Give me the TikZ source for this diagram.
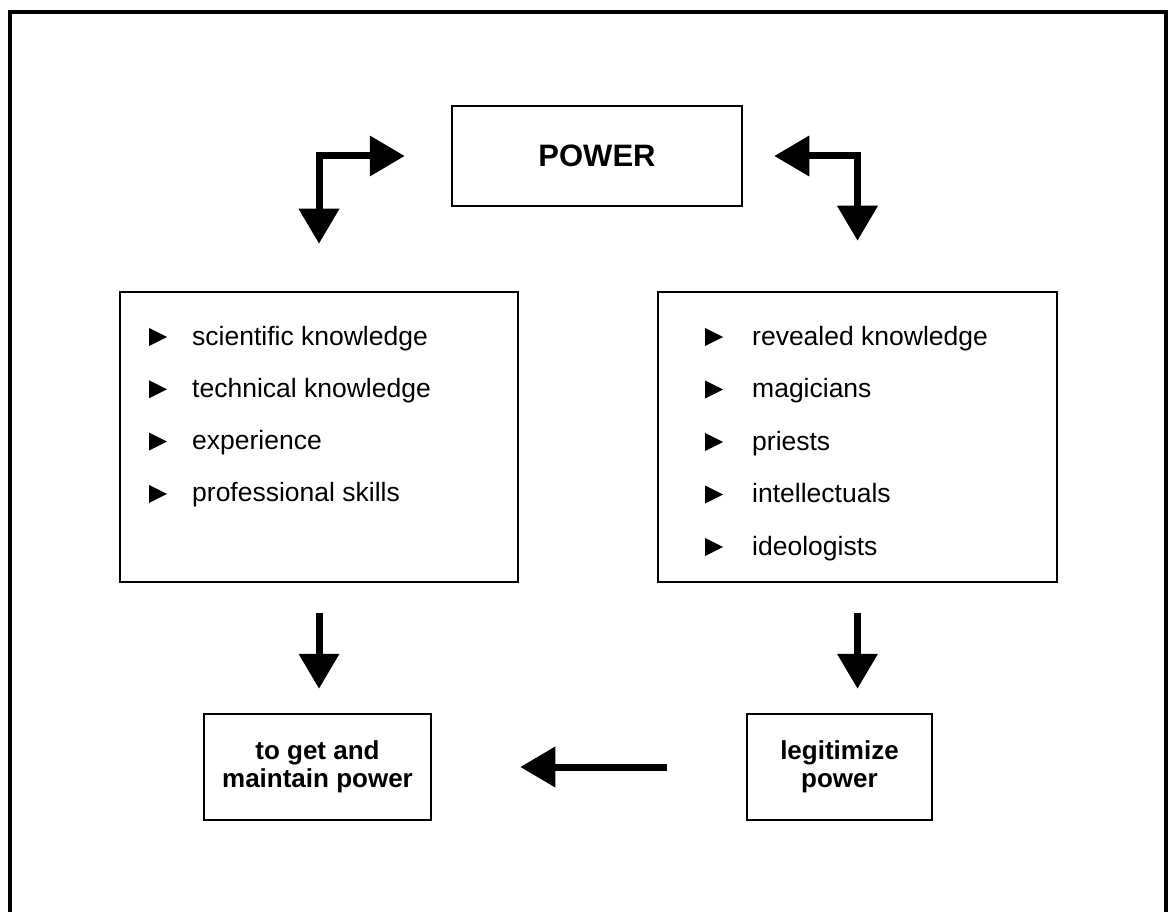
\documentclass[tikz,border=0pt]{standalone}
\usepackage{fontspec}
\setmainfont{Liberation Sans}
\usetikzlibrary{arrows.meta}

\begin{document}
\begin{tikzpicture}[
	x=1pt, y=-1pt,
	box/.style={
		rectangle,
		draw=black,
		line width=2.5pt,
		align=center,
		inner sep=0pt
	},
	bigarrow/.style={
		line width=7pt,
		-{Triangle[length=35pt,width=39pt]}
	},
	twoway/.style={
		line width=7pt,
		{Triangle[length=35pt,width=39pt]}-{Triangle[length=35pt,width=39pt]}
	},
	item/.style={
		anchor=base west,
		inner sep=0pt,
		font=\fontsize{26.5}{30}\selectfont
	},
	result/.style={
		font=\bfseries\fontsize{26}{28}\selectfont
	}
]
\useasboundingbox (0,0) rectangle (1171,912);

% page frame, open at the bottom
\draw[line width=3.5pt] (10,912) -- (10,12) -- (1166,12) -- (1166,912);

\node[box, minimum width=290pt, minimum height=100pt, font=\bfseries\fontsize{31}{36}\selectfont] (power) at (597,156) {POWER};

\node[box, minimum width=398pt, minimum height=290pt] (know) at (319,437) {};
\node[box, minimum width=399pt, minimum height=290pt] (reveal) at (857.5,437) {};

\node[box, result, minimum width=227pt, minimum height=106pt] (getpower) at (317.5,767) {to get and\\maintain power};
\node[box, result, minimum width=185pt, minimum height=106pt] (legit) at (839.5,767) {legitimize\\power};

% bullet lists
\foreach \txt [count=\i from 0] in {scientific knowledge, technical knowledge, experience, professional skills} {
	\fill (149,{328+52.3*\i}) -- ++(18,9) -- ++(-18,9) -- cycle;
	\node[item] (know\i) at (192,{345+52.3*\i}) {\txt};
}
\foreach \txt [count=\i from 0] in {revealed knowledge, magicians, priests, intellectuals, ideologists} {
	\fill (705,{328+52.5*\i}) -- ++(18,9) -- ++(-18,9) -- cycle;
	\node[item] (reveal\i) at (752,{345+52.5*\i}) {\txt};
}

\draw[twoway, shorten <=46pt, shorten >=47pt] (power.west) -| (know.north);
\draw[twoway, shorten <=31pt, shorten >=50pt] (power.east) -| (reveal.north);

\draw[bigarrow, shorten <=30pt, shorten >=24pt] (know.south) -- (know.south |- getpower.north);
\draw[bigarrow, shorten <=30pt, shorten >=24pt] (reveal.south) -- (reveal.south |- legit.north);
\draw[bigarrow, shorten <=79pt, shorten >=88pt] (legit.west) -- (getpower.east);

\end{tikzpicture}
\end{document}
